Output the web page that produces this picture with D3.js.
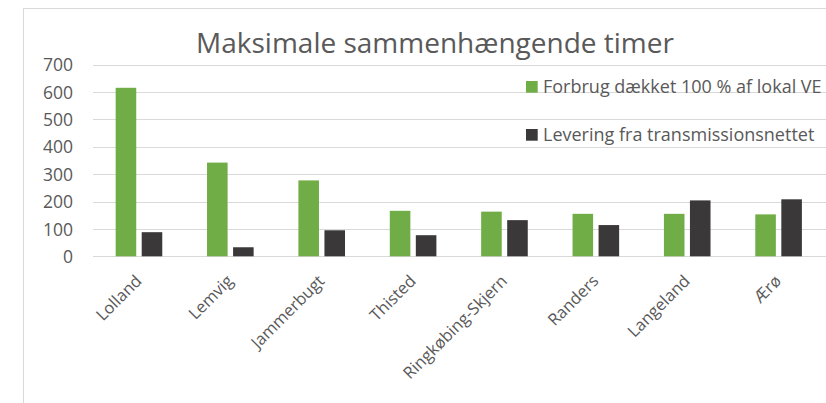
<!DOCTYPE html>
<html><head><meta charset="utf-8">
<script src="https://cdn.jsdelivr.net/npm/d3@7"></script>
<style>html,body{margin:0;padding:0;background:#fff;overflow:hidden}text{font-family:"Open Sans",sans-serif;fill:#595959}</style>
</head><body>
<svg id="c" width="826" height="403"></svg>
<script>
const categories = ["Lolland","Lemvig","Jammerbugt","Thisted","Ringkøbing-Skjern","Randers","Langeland","Ærø"];
const seriesNames = ["Forbrug dækket 100 % af lokal VE","Levering fra transmissionsnettet"];
const forbrugValues = [615, 342, 277, 166, 163, 155, 155, 153];
const leveringValues = [88, 33, 95, 77, 132, 114, 204, 208];
const yTicks = [0,100,200,300,400,500,600,700];
const colors = ["#70AD47","#3A3838"];
const title = "Maksimale sammenhængende timer";

const svg = d3.select("#c");
svg.append("rect").attr("x",23.5).attr("y",8.5).attr("width",900).attr("height",500)
  .attr("fill","#fff").attr("stroke","#D9D9D9").attr("stroke-width",1);

const x0 = d3.scaleBand().domain(categories).range([93, 824]).paddingInner(0).paddingOuter(0);
const step = x0.bandwidth();
const x1 = d3.scaleBand().domain(seriesNames).range([step*0.248, step*0.758]).paddingInner(0.21);
const y = d3.scaleLinear().domain([0,700]).range([256.3, 64.5]);

// gridlines
svg.append("g").selectAll("line").data(yTicks).join("line")
  .attr("x1",93).attr("x2",826).attr("y1",d=>Math.round(y(d))+0.5).attr("y2",d=>Math.round(y(d))+0.5)
  .attr("stroke","#D9D9D9").attr("stroke-width",1);

// y axis labels
const yAxis = d3.axisLeft(y).tickValues(yTicks).tickSize(0).tickPadding(0);
const yg = svg.append("g").attr("transform","translate(73,0)").call(yAxis);
yg.select(".domain").remove();
yg.selectAll("text").style("font-size","17.5px").attr("fill","#595959").attr("dy","0.35em");

// bars
const data = categories.map((c,i)=>({c, vals:[forbrugValues[i], leveringValues[i]]}));
const groups = svg.append("g").selectAll("g").data(data).join("g")
  .attr("transform",d=>`translate(${x0(d.c)},0)`);
groups.selectAll("rect").data(d=>d.vals.map((v,j)=>({s:seriesNames[j], v, j}))).join("rect")
  .attr("x",d=>x1(d.s)).attr("width",x1.bandwidth())
  .attr("y",d=>y(d.v)).attr("height",d=>y(0)-y(d.v))
  .attr("fill",d=>colors[d.j]);

// x axis labels
const xAxis = d3.axisBottom(x0).tickSize(0).tickPadding(0);
const xg = svg.append("g").attr("transform","translate(0,256)").call(xAxis);
xg.select(".domain").remove();
xg.selectAll("text").style("font-size","16.5px").attr("fill","#595959")
  .attr("text-anchor","end").attr("dy",null).attr("y",0)
  .attr("transform","translate(4,26) rotate(-45)");

// title
svg.append("text").attr("x",435).attr("y",53).attr("text-anchor","middle")
  .style("font-size","28px").attr("fill","#595959").text(title);

// legend
const leg = svg.append("g");
seriesNames.forEach((s,i)=>{
  const yy = 81 + i*48;
  leg.append("rect").attr("x",526).attr("y",yy).attr("width",11.7).attr("height",11.7).attr("fill",colors[i]);
  leg.append("text").attr("x",543).attr("y",yy+11.7).style("font-size","18px").attr("fill","#595959").text(s);
});
</script>
</body></html>
